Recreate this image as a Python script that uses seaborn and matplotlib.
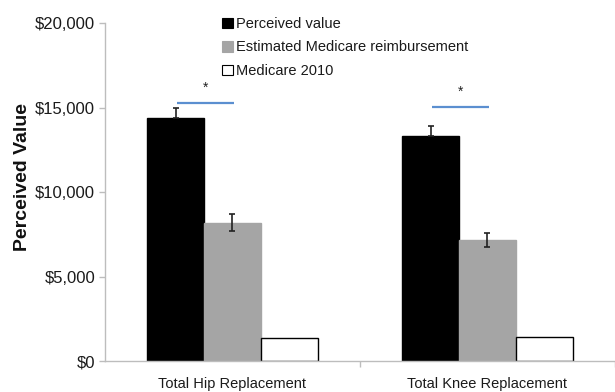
import matplotlib
matplotlib.use("Agg")
import matplotlib.pyplot as plt
from matplotlib.patches import Patch
from matplotlib.ticker import FixedLocator, FuncFormatter
import seaborn as sns
import pandas as pd

# Procedures and measures
procedures = ["Total Hip Replacement", "Total Knee Replacement"]
series = ["Perceived value", "Estimated Medicare reimbursement", "Medicare 2010"]
perceived = [14400, 13300]
perceived_err = [600, 600]
estimated = [8200, 7200]
estimated_err = [500, 420]
medicare_2010 = [1400, 1450]
significance_y = [15300, 15050]
y_ticks = [0, 5000, 10000, 15000, 20000]

colors = ["#000000", "#a5a5a5", "#ffffff"]
edges = ["#000000", "#a5a5a5", "#000000"]

sns.set_theme(style="white")
plt.rcParams["font.family"] = ["Liberation Sans", "DejaVu Sans"]

df = pd.DataFrame({
    "procedure": procedures * 3,
    "series": [series[0]] * 2 + [series[1]] * 2 + [series[2]] * 2,
    "value": perceived + estimated + medicare_2010,
})

fig = plt.figure(figsize=(6.15, 3.92), dpi=100)
ax = fig.add_axes([0.1707, 0.078, 0.8293, 0.863])

sns.barplot(data=df, x="procedure", y="value", hue="series", order=procedures,
            hue_order=series, palette=colors, width=0.67, gap=0,
            errorbar=None, legend=False, ax=ax)

# Style each hue's bars and collect their centres
centres = {}
for s, container in zip(series, ax.containers):
    i = series.index(s)
    for bar in container:
        bar.set_facecolor(colors[i])
        bar.set_edgecolor(edges[i])
        bar.set_linewidth(1.0)
    centres[s] = [b.get_x() + b.get_width() / 2 for b in container]
    bw = container[0].get_width()

ax.errorbar(centres[series[0]], perceived, yerr=[[0, 0], perceived_err],
            fmt="none", ecolor="#222222", elinewidth=1.2, capsize=2, capthick=1.2)
ax.errorbar(centres[series[1]], estimated, yerr=estimated_err,
            fmt="none", ecolor="#222222", elinewidth=1.2, capsize=2, capthick=1.2)

# Significance markers between perceived and estimated values
for k in range(len(procedures)):
    x0 = centres[series[0]][k] + bw * 0.03
    x1 = centres[series[1]][k] + bw * 0.03
    ax.plot([x0, x1], [significance_y[k]] * 2, color="#5b8fd0", lw=1.6,
            solid_capstyle="butt")
    ax.text((x0 + x1) / 2, significance_y[k] + 450, "*", ha="center",
            va="bottom", fontsize=10, color="#222222")

ax.set_xlim(-0.5, 1.5)
ax.set_ylim(0, 20000)
ax.yaxis.set_major_locator(FixedLocator(y_ticks))
ax.yaxis.set_major_formatter(FuncFormatter(lambda v, p: f"${v:,.0f}"))
ax.xaxis.set_minor_locator(FixedLocator([0.5, 1.5]))

for side in ["top", "right"]:
    ax.spines[side].set_visible(False)
for side in ["left", "bottom"]:
    ax.spines[side].set_color("#bdbdbd")
    ax.spines[side].set_linewidth(1.0)

ax.tick_params(axis="y", which="major", left=True, length=4, width=1,
               color="#bdbdbd", labelsize=12, labelcolor="#1a1a1a", pad=3)
ax.tick_params(axis="x", which="major", bottom=False, labelsize=10.5,
               labelcolor="#1a1a1a", pad=5.5)
ax.tick_params(axis="x", which="minor", bottom=True, length=4, width=1,
               color="#bdbdbd")

ax.set_xlabel("")
ax.set_ylabel("Perceived Value", fontsize=14, fontweight="bold",
              color="#111111", labelpad=3)
ax.yaxis.label.set_y(0.545)

handles = [Patch(facecolor=colors[i], edgecolor=edges[i], linewidth=0.8,
                 label=series[i]) for i in range(3)]
ax.legend(handles=handles, loc="upper left", bbox_to_anchor=(0.203, 1.057),
          frameon=False, fontsize=10.5, handlelength=0.75, handleheight=0.75,
          handletextpad=0.25, labelspacing=0.65, labelcolor="#1a1a1a")

fig.savefig("out.png", dpi=100)
